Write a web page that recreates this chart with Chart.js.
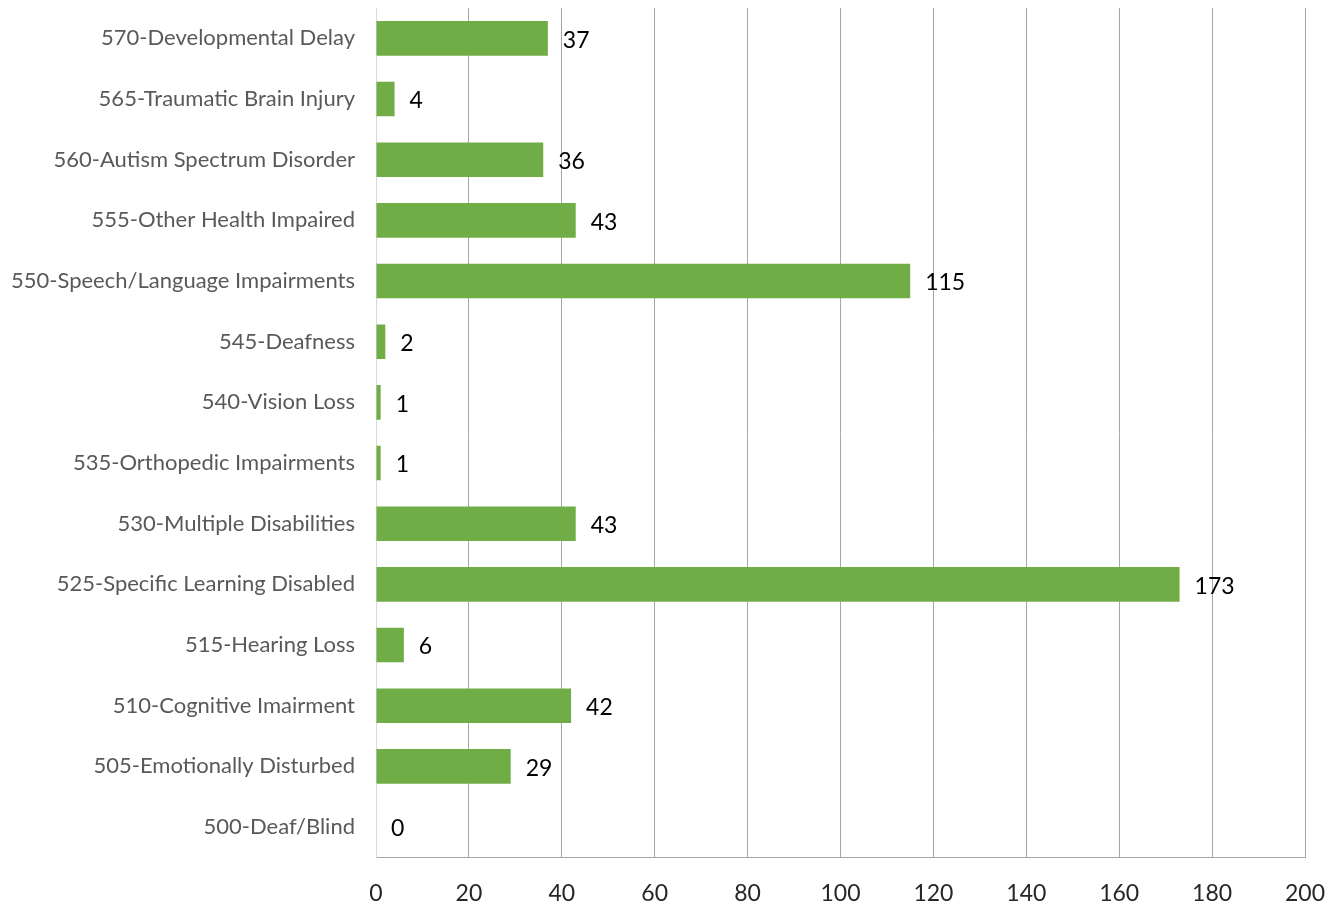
<!DOCTYPE html>
<html>
<head>
<meta charset="utf-8">
<script src="https://cdn.jsdelivr.net/npm/chart.js@4.4.1/dist/chart.umd.min.js"></script>
<style>
  html, body { margin: 0; padding: 0; background: #fff; }
  #wrap { width: 1340px; height: 905px; }
</style>
</head>
<body>
<div id="wrap"><canvas id="disabilityChart" width="1340" height="905"></canvas></div>
<script>
const categories = [
  "570-Developmental Delay",
  "565-Traumatic Brain Injury",
  "560-Autism Spectrum Disorder",
  "555-Other Health Impaired",
  "550-Speech/Language Impairments",
  "545-Deafness",
  "540-Vision Loss",
  "535-Orthopedic Impairments",
  "530-Multiple Disabilities",
  "525-Specific Learning Disabled",
  "515-Hearing Loss",
  "510-Cognitive Imairment",
  "505-Emotionally Disturbed",
  "500-Deaf/Blind"
];
const counts = [37, 4, 36, 43, 115, 2, 1, 1, 43, 173, 6, 42, 29, 0];
const xTicks = [0, 20, 40, 60, 80, 100, 120, 140, 160, 180, 200];

const fontFamily = "Lato, 'Open Sans', sans-serif";

// value printed just past the end of each bar
const barValueLabels = {
  id: "barValueLabels",
  afterDatasetsDraw(chart) {
    const ctx = chart.ctx;
    const meta = chart.getDatasetMeta(0);
    ctx.save();
    ctx.fillStyle = "#000";
    ctx.font = "23px " + fontFamily;
    ctx.textAlign = "left";
    ctx.textBaseline = "middle";
    meta.data.forEach((bar, i) => {
      ctx.fillText(String(counts[i]), bar.x + 15, bar.y + 2);
    });
    ctx.restore();
  }
};

new Chart(document.getElementById("disabilityChart"), {
  type: "bar",
  data: {
    labels: categories,
    datasets: [{
      data: counts,
      backgroundColor: "#70ad47",
      borderWidth: 0,
      categoryPercentage: 1,
      barPercentage: 0.57
    }]
  },
  plugins: [barValueLabels],
  options: {
    indexAxis: "y",
    responsive: false,
    animation: false,
    layout: { padding: { top: 8, right: 35, left: 10, bottom: -24 } },
    plugins: {
      legend: { display: false },
      tooltip: { enabled: false }
    },
    scales: {
      x: {
        min: 0,
        max: 200,
        afterBuildTicks(axis) {
          axis.ticks = xTicks.map(v => ({ value: v }));
        },
        afterFit(scale) {
          scale.paddingLeft = 0;
          scale.paddingRight = 0;
        },
        grid: {
          color: ctx => ctx.index === 0 ? "rgba(0,0,0,0)" : "#a6a6a6",
          lineWidth: 1,
          drawTicks: false
        },
        border: { color: "#a6a6a6", width: 1 },
        ticks: {
          color: "#262626",
          padding: 22,
          font: { family: fontFamily, size: 23 }
        }
      },
      y: {
        // labels sit in the middle of each band, so no extra room above/below
        afterFit(scale) {
          scale.width = 366;
          scale.paddingTop = 0;
          scale.paddingBottom = 0;
        },
        grid: { display: false, drawTicks: false },
        border: { color: "#d9d9d9", width: 1 },
        ticks: {
          color: "#595959",
          padding: 21,
          font: { family: fontFamily, size: 22 }
        }
      }
    }
  }
});
</script>
</body>
</html>
